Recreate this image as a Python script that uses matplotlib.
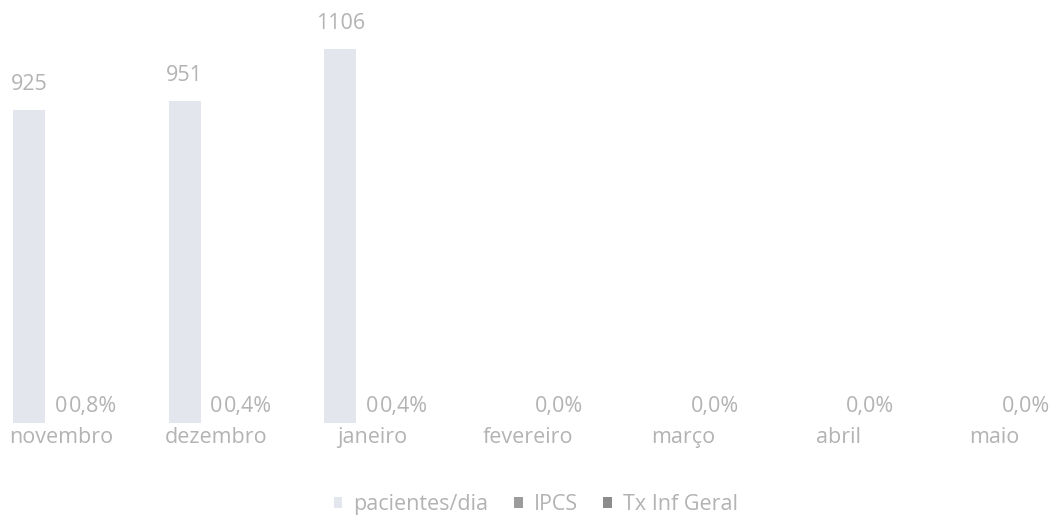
import matplotlib.pyplot as plt
import numpy as np

plt.rcParams["font.family"] = ["Open Sans", "DejaVu Sans"]

meses = ["novembro", "dezembro", "janeiro", "fevereiro", "março", "abril", "maio"]
pacientes_dia = [925, 951, 1106, np.nan, np.nan, np.nan, np.nan]
ipcs = [0, 0, 0, np.nan, np.nan, np.nan, np.nan]
tx_inf_geral = [0.008, 0.004, 0.004, 0.0, 0.0, 0.0, 0.0]

txt_color = "#b3b3b3"
fs = 15.5

fig = plt.figure(figsize=(10.61, 5.27), dpi=100)
ax = fig.add_axes([0, 104 / 527, 1, 423 / 527])

x = np.arange(len(meses))
w = 0.205
b1 = ax.bar(x - w, pacientes_dia, w, color="#e4e6ee", label="pacientes/dia")
b2 = ax.bar(x, ipcs, w, color="#9c9c9c", label="IPCS")
b3 = ax.bar(x + w, tx_inf_geral, w, color="#8c8c8c", label="Tx Inf Geral")

ax.bar_label(b1, labels=[f"{v:.0f}" if not np.isnan(v) else "" for v in pacientes_dia],
             padding=11, color=txt_color, fontsize=fs)
ax.bar_label(b2, labels=[f"{v:.0f}" if not np.isnan(v) else "" for v in ipcs],
             padding=4, color=txt_color, fontsize=fs)
ax.bar_label(b3, labels=[f"{v * 100:.1f}%".replace(".", ",") for v in tx_inf_geral],
             padding=4, color=txt_color, fontsize=fs)

ax.set_xlim(-61 / 155.5, (1061 - 61) / 155.5)
ax.set_ylim(0, 1251)
ax.set_xticks(x)
ax.set_xticklabels(meses, color=txt_color, fontsize=fs)
ax.tick_params(axis="x", length=0, pad=3)
ax.set_yticks([])
for s in ax.spines.values():
    s.set_visible(False)

fig.legend(loc="center", bbox_to_anchor=(0.505, 0.042), ncol=3, frameon=False,
           fontsize=fs, labelcolor=txt_color, handlelength=0.4, handleheight=0.4,
           handletextpad=0.5, columnspacing=1.2)

fig.savefig("out.png", dpi=100)
